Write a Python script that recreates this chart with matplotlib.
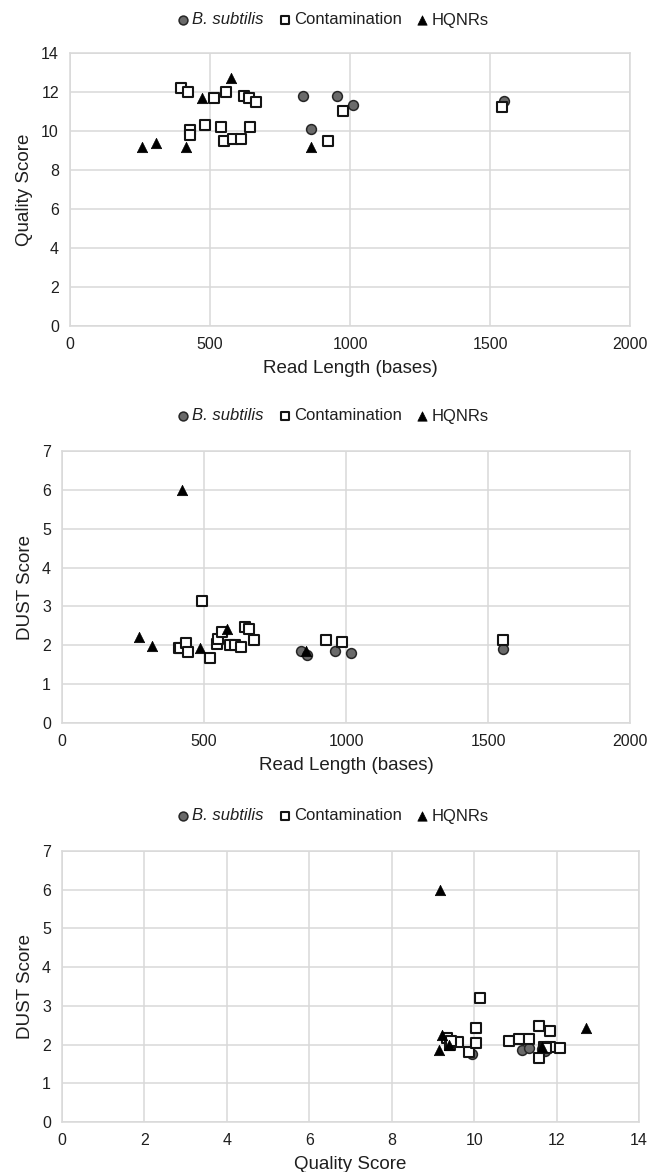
import matplotlib.pyplot as plt

plt.rcParams['font.family'] = ['Liberation Sans', 'DejaVu Sans']

# panel 1: read length vs quality score
p1_bsub_len = [833, 862, 955, 1009, 1551]
p1_bsub_qual = [11.8, 10.1, 11.8, 11.35, 11.55]
p1_cont_len = [397, 420, 427, 427, 482, 514, 540, 550, 557, 581, 611, 623, 638, 644, 664, 923, 975, 1542]
p1_cont_qual = [12.2, 12.0, 10.05, 9.8, 10.3, 11.7, 10.2, 9.5, 12.0, 9.6, 9.6, 11.8, 11.7, 10.2, 11.5, 9.5, 11.05, 11.25]
p1_hq_len = [258, 307, 414, 472, 575, 860]
p1_hq_qual = [9.2, 9.4, 9.2, 11.7, 12.7, 9.2]

# panel 2: read length vs DUST score
p2_bsub_len = [843, 862, 963, 1018, 1553]
p2_bsub_dust = [1.86, 1.76, 1.85, 1.80, 1.90]
p2_cont_len = [413, 415, 436, 442, 494, 521, 546, 550, 565, 593, 610, 631, 643, 660, 677, 930, 985, 1553]
p2_cont_dust = [1.92, 1.93, 2.06, 1.82, 3.13, 1.68, 2.04, 2.17, 2.34, 2.0, 2.0, 1.96, 2.48, 2.42, 2.14, 2.14, 2.09, 2.14]
p2_hq_len = [271, 318, 422, 486, 581, 860]
p2_hq_dust = [2.22, 1.99, 6.0, 1.94, 2.42, 1.85]

# panel 3: quality score vs DUST score
p3_bsub_qual = [9.96, 11.16, 11.33, 11.64, 11.72]
p3_bsub_dust = [1.75, 1.85, 1.9, 1.88, 1.83]
p3_cont_qual = [9.33, 9.42, 9.6, 9.88, 10.04, 10.04, 10.14, 10.85, 11.08, 11.33, 11.57, 11.85,
                11.57, 11.69, 11.85, 12.08, 9.45, 11.75]
p3_cont_dust = [2.17, 1.99, 2.06, 1.8, 2.44, 2.04, 3.2, 2.08, 2.14, 2.14, 2.48, 2.34,
                1.65, 1.95, 1.95, 1.91, 2.1, 1.9]
p3_hq_qual = [9.17, 12.71, 9.14, 9.22, 9.4, 11.65]
p3_hq_dust = [6.0, 2.44, 1.85, 2.26, 2.0, 1.95]

W, H = 658, 1172
fig = plt.figure(figsize=(W / 100, H / 100), dpi=100)

grid_col = '#d9d9d9'
text_col = '#1f1f1f'


def draw_panel(rect, legend_y, bsub, cont, hq, xmax, xstep, ymax, ystep, xlabel, ylabel):
    left, top, right, bottom = rect
    ax = fig.add_axes([left / W, 1 - bottom / H, (right - left) / W, (bottom - top) / H])

    ax.scatter(bsub[0], bsub[1], s=50, marker='o', facecolor='#6a6a6a',
               edgecolor='#262626', linewidth=1.1, zorder=3, label='B. subtilis')
    ax.scatter(cont[0], cont[1], s=46, marker='s', facecolor='white',
               edgecolor='#141414', linewidth=1.5, zorder=4, label='Contamination')
    ax.scatter(hq[0], hq[1], s=56, marker='^', facecolor='black',
               edgecolor='black', linewidth=0.5, zorder=5, label='HQNRs')

    ax.set_xlim(0, xmax)
    ax.set_ylim(0, ymax)
    ax.set_xticks(range(0, xmax + 1, xstep))
    ax.set_yticks(range(0, ymax + 1, ystep))
    ax.grid(True, color=grid_col, linewidth=1.1)
    ax.set_axisbelow(True)
    for sp in ax.spines.values():
        sp.set_color(grid_col)
        sp.set_linewidth(1.1)
    ax.tick_params(length=0, labelsize=11.5, labelcolor=text_col, pad=8)

    ax.set_xlabel(xlabel, fontsize=13.5, color=text_col, labelpad=6)
    ax.set_ylabel(ylabel, fontsize=13.5, color=text_col, labelpad=6)

    leg = ax.legend(loc='center', bbox_to_anchor=(333 / W, 1 - legend_y / H),
                    bbox_transform=fig.transFigure, ncol=3, frameon=False,
                    fontsize=12, handlelength=0.7, handletextpad=0.2,
                    columnspacing=0.9, markerscale=0.9, borderpad=0)
    for t in leg.get_texts():
        t.set_color(text_col)
    leg.get_texts()[0].set_fontstyle('italic')
    return ax


draw_panel((70, 53, 630, 326), 20,
           (p1_bsub_len, p1_bsub_qual), (p1_cont_len, p1_cont_qual), (p1_hq_len, p1_hq_qual),
           2000, 500, 14, 2, 'Read Length (bases)', 'Quality Score')

draw_panel((62, 451, 630, 723), 416,
           (p2_bsub_len, p2_bsub_dust), (p2_cont_len, p2_cont_dust), (p2_hq_len, p2_hq_dust),
           2000, 500, 7, 1, 'Read Length (bases)', 'DUST Score')

draw_panel((62, 851, 639, 1122), 816,
           (p3_bsub_qual, p3_bsub_dust), (p3_cont_qual, p3_cont_dust), (p3_hq_qual, p3_hq_dust),
           14, 2, 7, 1, 'Quality Score', 'DUST Score')

fig.savefig('out.png', dpi=100)
